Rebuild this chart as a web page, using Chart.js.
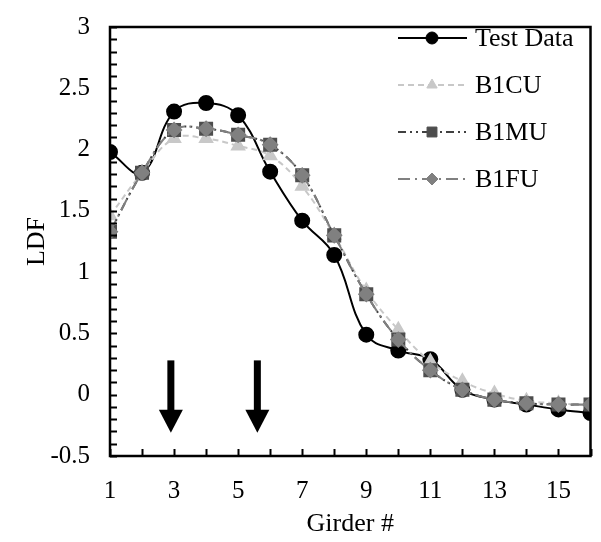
<!DOCTYPE html>
<html>
<head>
<meta charset="utf-8">
<script src="https://cdn.jsdelivr.net/npm/chart.js@4/dist/chart.umd.min.js"></script>
<style>
  html, body { margin: 0; padding: 0; background: #fff; }
</style>
</head>
<body>
<canvas id="myChart" width="601" height="542"></canvas>
<script>
// girder numbers and LDF values
const girders = [1, 2, 3, 4, 5, 6, 7, 8, 9, 10, 11, 12, 13, 14, 15, 16];
const testData = [1.98, 1.81, 2.31, 2.38, 2.28, 1.82, 1.42, 1.14, 0.49, 0.36, 0.29, 0.04, -0.04, -0.08, -0.12, -0.15];
const b1cu = [1.46, 1.81, 2.09, 2.09, 2.03, 1.95, 1.70, 1.30, 0.85, 0.53, 0.27, 0.11, 0.01, -0.05, -0.07, -0.09];
const b1mu = [1.33, 1.81, 2.16, 2.17, 2.12, 2.04, 1.79, 1.30, 0.82, 0.45, 0.20, 0.04, -0.04, -0.07, -0.08, -0.08];
const b1fu = [1.33, 1.81, 2.16, 2.17, 2.12, 2.04, 1.79, 1.30, 0.82, 0.45, 0.20, 0.04, -0.04, -0.07, -0.08, -0.08];

const xTicks = [1, 3, 5, 7, 9, 11, 13, 15];
const yTicks = [-0.5, 0, 0.5, 1, 1.5, 2, 2.5, 3];

// loaded-girder arrows (x position, top and tip in LDF units)
const arrowsAt = [2.9, 5.6];
const arrowTop = 0.28;
const arrowTip = -0.31;

const FONT = "'Liberation Serif', 'Times New Roman', serif";
Chart.defaults.font.family = FONT;
Chart.defaults.color = '#000';

function pts(vals) {
	return girders.map((g, i) => ({ x: g, y: vals[i] }));
}

// frame, inward minor ticks, arrows
const decorPlugin = {
	id: 'decor',
	afterDatasetsDraw(chart) {
		const ctx = chart.ctx;
		const a = chart.chartArea;
		const xs = chart.scales.x;
		const ys = chart.scales.y;
		ctx.save();

		// arrows
		ctx.fillStyle = '#000';
		arrowsAt.forEach(v => {
			const px = xs.getPixelForValue(v);
			const top = ys.getPixelForValue(arrowTop);
			const tip = ys.getPixelForValue(arrowTip);
			const headLen = 23;
			ctx.fillRect(px - 3.5, top, 7, tip - headLen - top + 1);
			ctx.beginPath();
			ctx.moveTo(px - 12, tip - headLen);
			ctx.lineTo(px + 12, tip - headLen);
			ctx.lineTo(px, tip);
			ctx.closePath();
			ctx.fill();
		});

		// ticks
		ctx.strokeStyle = '#000';
		ctx.lineWidth = 2;
		ctx.beginPath();
		for (let v = -0.5; v <= 3.0001; v += 0.1) {
			const py = Math.round(ys.getPixelForValue(v)) + 0.5;
			ctx.moveTo(a.left, py);
			ctx.lineTo(a.left + 7, py);
		}
		for (let g = 1; g <= 16; g++) {
			const px = Math.round(xs.getPixelForValue(g)) + 0.5;
			ctx.moveTo(px, a.bottom);
			ctx.lineTo(px, a.bottom - 7);
		}
		ctx.stroke();

		// box
		ctx.lineWidth = 2.5;
		ctx.strokeRect(a.left, a.top, a.right - a.left, a.bottom - a.top);
		ctx.restore();
	}
};

// legend drawn inside the plot, top right
const legendPlugin = {
	id: 'insideLegend',
	afterDraw(chart) {
		const ctx = chart.ctx;
		const sets = chart.data.datasets;
		ctx.save();
		sets.forEach((ds, i) => {
			const y = 38 + i * 47;
			ctx.strokeStyle = ds.borderColor;
			ctx.lineWidth = ds.borderWidth;
			ctx.setLineDash(ds.borderDash || []);
			ctx.beginPath();
			ctx.moveTo(398, y);
			ctx.lineTo(467, y);
			ctx.stroke();
			ctx.setLineDash([]);
			ctx.fillStyle = ds.pointBackgroundColor;
			ctx.strokeStyle = ds.pointBorderColor;
			ctx.lineWidth = 1;
			Chart.helpers.drawPoint(ctx, {
				pointStyle: ds.pointStyle,
				radius: ds.legendRadius,
				rotation: 0,
				borderWidth: 1
			}, 432, y);
			ctx.fillStyle = '#000';
			ctx.font = '26px ' + FONT;
			ctx.textBaseline = 'middle';
			ctx.textAlign = 'left';
			ctx.fillText(ds.label, 475, y + 1);
		});
		ctx.restore();
	}
};

const ctx = document.getElementById('myChart').getContext('2d');
let myChart = new Chart(ctx, {
	type: 'line',
	data: {
		datasets: [{
			label: 'Test Data',
			data: pts(testData),
			borderColor: '#000000',
			borderWidth: 2,
			pointStyle: 'circle',
			pointRadius: 7,
			legendRadius: 6,
			pointBackgroundColor: '#000000',
			pointBorderColor: '#000000',
			tension: 0.4,
			order: 4
		}, {
			label: 'B1CU',
			data: pts(b1cu),
			borderColor: '#c8c8c8',
			borderWidth: 2,
			borderDash: [6, 4],
			pointStyle: 'triangle',
			pointRadius: 7,
			legendRadius: 6,
			pointBackgroundColor: '#c8c8c8',
			pointBorderColor: '#c8c8c8',
			tension: 0.4,
			order: 3
		}, {
			label: 'B1MU',
			data: pts(b1mu),
			borderColor: '#404040',
			borderWidth: 2,
			borderDash: [8, 4, 2, 4, 2, 4],
			pointStyle: 'rect',
			pointRadius: 8.5,
			legendRadius: 7,
			pointBackgroundColor: '#4d4d4d',
			pointBorderColor: '#4d4d4d',
			tension: 0.4,
			order: 2
		}, {
			label: 'B1FU',
			data: pts(b1fu),
			borderColor: '#808080',
			borderWidth: 2,
			borderDash: [12, 5, 2, 5],
			pointStyle: 'rectRot',
			pointRadius: 7,
			legendRadius: 6,
			pointBackgroundColor: '#808080',
			pointBorderColor: '#808080',
			tension: 0.4,
			order: 1
		}]
	},
	options: {
		responsive: false,
		animation: false,
		layout: { padding: { top: 19, right: 2, left: 0, bottom: 0 } },
		plugins: {
			legend: { display: false },
			tooltip: { enabled: false }
		},
		scales: {
			x: {
				type: 'linear',
				min: 1,
				max: 16,
				afterBuildTicks: s => { s.ticks = xTicks.map(v => ({ value: v })); },
				afterFit: s => { s.height = 86; },
				grid: { display: false },
				border: { display: false },
				ticks: {
					color: '#000',
					padding: 12,
					maxRotation: 0,
					autoSkip: false,
					callback: v => String(v),
					font: { family: FONT, size: 25 }
				},
				title: {
					display: true,
					text: 'Girder #',
					color: '#000',
					padding: { top: 0, bottom: 2 },
					font: { family: FONT, size: 26 }
				}
			},
			y: {
				type: 'linear',
				min: -0.5,
				max: 3,
				afterBuildTicks: s => { s.ticks = yTicks.map(v => ({ value: v })); },
				afterFit: s => { s.width = 110; },
				grid: { display: false },
				border: { display: false },
				ticks: {
					color: '#000',
					padding: 12,
					autoSkip: false,
					callback: v => String(v),
					font: { family: FONT, size: 25 }
				},
				title: {
					display: true,
					text: 'LDF',
					color: '#000',
					padding: { top: 22, bottom: 0 },
					font: { family: FONT, size: 26 }
				}
			}
		}
	},
	plugins: [decorPlugin, legendPlugin]
});
</script>
</body>
</html>
